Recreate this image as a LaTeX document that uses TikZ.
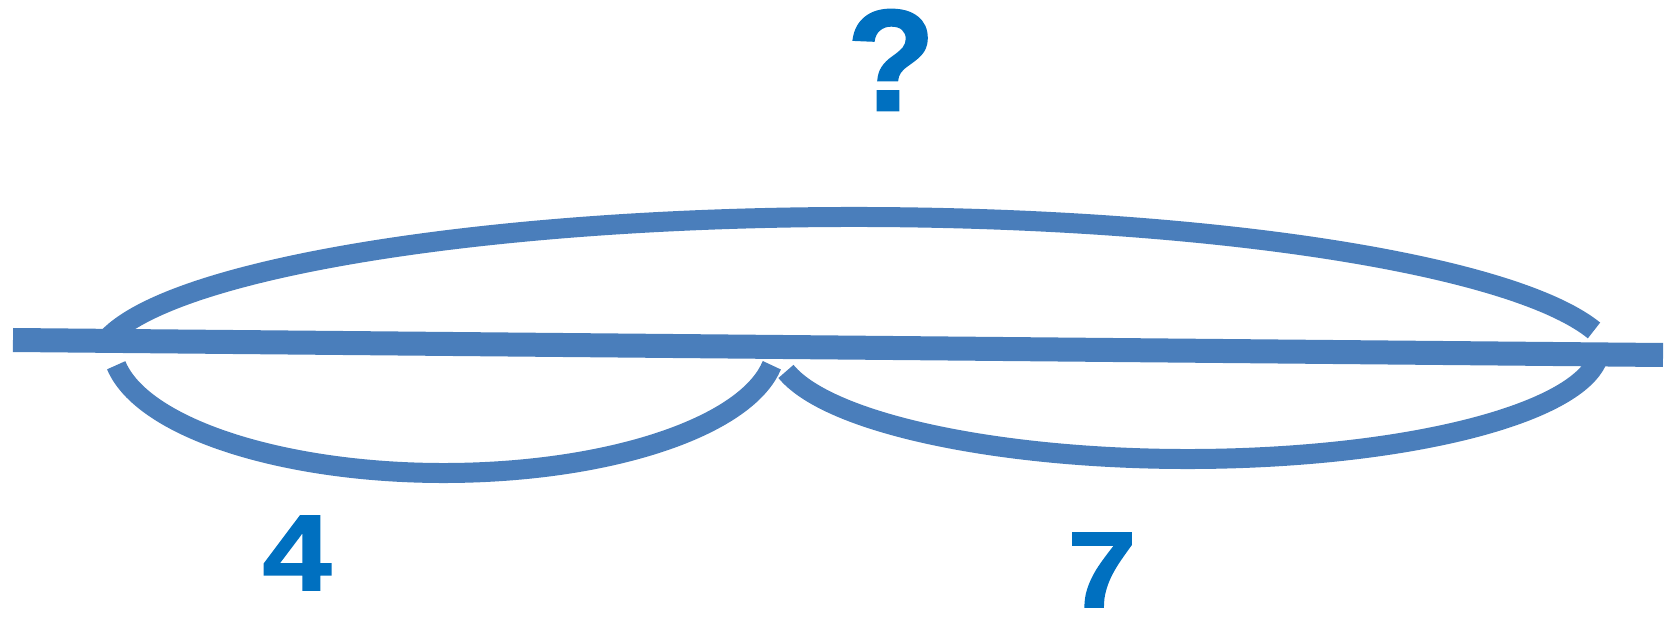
\documentclass[tikz,border=0pt]{standalone}
\usepackage{fontspec}
\setmainfont{Liberation Sans}
\newfontfamily\numfont{Liberation Sans}[BoldFeatures={FakeBold=1.5}]
\usepackage{xcolor}
\definecolor{arcblue}{HTML}{4A7EBB}
\definecolor{numblue}{HTML}{0070C0}

\begin{document}
\begin{tikzpicture}[
    arcline/.style={line width=0.2cm, arcblue},
    numlabel/.style={text=numblue, inner sep=0pt, font=\numfont\bfseries\fontsize{30.6}{36}\selectfont}]
    \useasboundingbox (0,0) rectangle (16.78,-6.21);
    \coordinate (lineleft) at (0.13,-3.40);
    \coordinate (lineright) at (16.63,-3.55);
    \draw[line width=0.24cm, arcblue] (lineleft)--(lineright);
    \coordinate (bigc) at (8.55,-3.65);
    \coordinate (leftc) at (4.44,-3.45);
    \coordinate (rightc) at (11.88,-3.47);
    \draw[arcline] (bigc) ++(171:7.6 and 1.48) arc[start angle=171, end angle=13.5, x radius=7.6, y radius=1.48];
    \draw[arcline] (leftc) ++(189.1:3.32 and 1.28) arc[start angle=189.1, end angle=350.9, x radius=3.32, y radius=1.28];
    \draw[arcline] (rightc) ++(192.6:4.12 and 1.12) arc[start angle=192.6, end angle=355, x radius=4.12, y radius=1.12];
    \node[numlabel, font=\numfont\bfseries\fontsize{41}{48}\selectfont] (whole) at (8.91,-0.60) {?};
    \node[numlabel] (partfour) at (2.97,-5.53) {\scalebox{1.15}[1]{4}};
    \node[numlabel] (partseven) at (11.02,-5.70) {\scalebox{1.15}[1]{7}};
\end{tikzpicture}
\end{document}
